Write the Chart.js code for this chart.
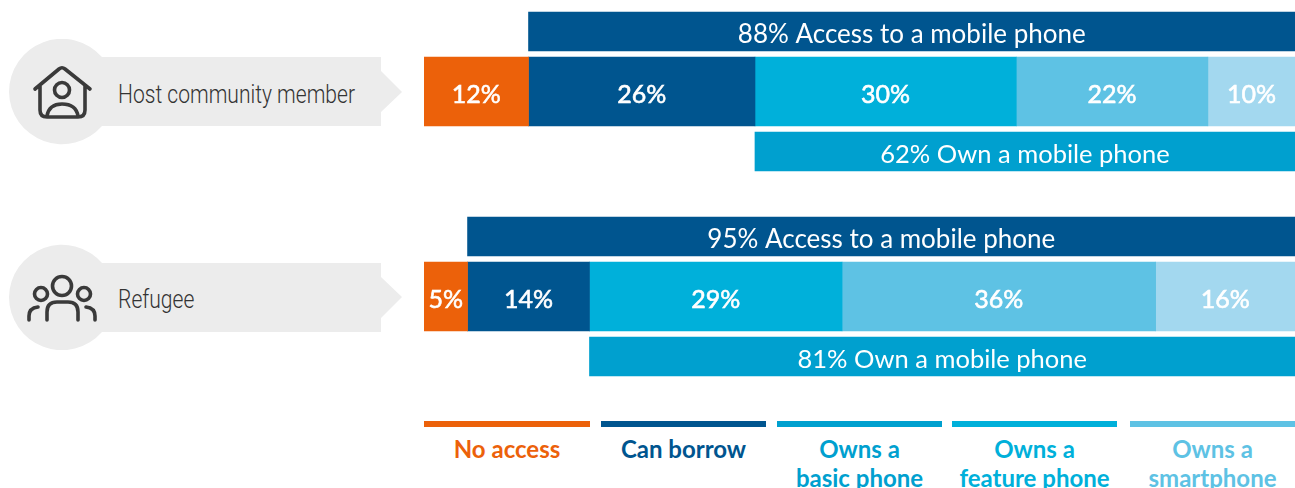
<!DOCTYPE html>
<html>
<head>
<meta charset="utf-8">
<script src="https://cdn.jsdelivr.net/npm/chart.js@4"></script>
<style>
    html, body { margin: 0; padding: 0; background: #fff; }
    .page { position: relative; width: 1295px; height: 488px; overflow: hidden; font-family: Lato, sans-serif; }
    .plot { position: absolute; left: 424px; width: 871px; }
    .badge { position: absolute; left: 0; width: 410px; height: 106px; }
    .badge svg { position: absolute; left: 0; top: 0; }
    .badge span { position: absolute; left: 118px; top: 38px; font-family: Roboto, sans-serif; font-weight: 300; font-size: 26px; line-height: 34px; color: #333; transform: scaleX(0.81); transform-origin: left center; white-space: nowrap; }
    .key { position: absolute; top: 421px; height: 6px; }
    .key-label { position: absolute; top: 13px; left: -20px; right: -20px; text-align: center; font-weight: 700; font-size: 24px; line-height: 29px; }
</style>
</head>
<body>
<div class="page">
    <div class="badge" style="top: 39px">
        <svg width="410" height="106" fill="none" stroke="#3a3a3a" stroke-width="3.6" stroke-linecap="round" stroke-linejoin="round">
            <path d="M9 53 A53 53 0 0 1 102 18 H381 V32 L402 53 L381 73 V87 H102 A53 53 0 0 1 9 53 Z" fill="#ececec" stroke="none"/>
            <path d="M35 50 L59 30 Q62 27.5 65 30 L90 50 M40 47 V71 Q40 78 47 78 H78 Q85 78 85 71 V47"/>
            <circle cx="62" cy="51" r="7.5"/>
            <path d="M47 77 Q49 65 62 65 Q76 65 78 77"/>
        </svg>
        <span>Host community member</span>
    </div>
    <div class="badge" style="top: 244px">
        <svg width="410" height="106" fill="none" stroke="#3a3a3a" stroke-width="3.6" stroke-linecap="round" stroke-linejoin="round">
            <path d="M9 53 A53 53 0 0 1 102 19 H381 V33 L402 53 L381 74 V88 H102 A53 53 0 0 1 9 53 Z" fill="#ececec" stroke="none"/>
            <circle cx="62" cy="42" r="9.5"/>
            <circle cx="41" cy="50" r="6.5"/>
            <circle cx="84" cy="50" r="6.5"/>
            <path d="M47 76 V68 Q47 58 57 58 H68 Q78 58 78 68 V76"/>
            <path d="M29 76 V72 Q29 64 38 63 M95 76 V72 Q95 64 86 63"/>
        </svg>
        <span>Refugee</span>
    </div>

    <div class="plot" style="top: 1px"><canvas id="hostChart" width="871" height="181"></canvas></div>
    <div class="plot" style="top: 206px"><canvas id="refugeeChart" width="871" height="181"></canvas></div>

    <div class="key" style="left: 424px; width: 166px; background: #ec610a"><div class="key-label" style="color: #ec610a">No access</div></div>
    <div class="key" style="left: 601px; width: 165px; background: #00558f"><div class="key-label" style="color: #00558f">Can borrow</div></div>
    <div class="key" style="left: 777px; width: 165px; background: #00a0cf"><div class="key-label" style="color: #00a0cf">Owns a<br>basic phone</div></div>
    <div class="key" style="left: 952px; width: 165px; background: #00b0da"><div class="key-label" style="color: #00b0da">Owns a<br>feature phone</div></div>
    <div class="key" style="left: 1130px; width: 165px; background: #5ec2e4"><div class="key-label" style="color: #5ec2e4">Owns a<br>smartphone</div></div>
</div>

<script>
document.addEventListener('DOMContentLoaded', function () {
    const rows = ['Access', 'Breakdown', 'Own'];

    const hostShares = [12, 26, 30, 22, 10];
    const hostAccess = 88;
    const hostOwn = 62;

    const refugeeShares = [5, 14, 29, 36, 16];
    const refugeeAccess = 95;
    const refugeeOwn = 81;

    const shareNames = ['No access', 'Can borrow', 'Owns a basic phone', 'Owns a feature phone', 'Owns a smartphone'];
    const shareColors = ['#ec610a', '#00558f', '#00b0da', '#5ec2e4', '#a3d8ef'];

    // writes each bar's label in the middle of its rectangle
    const barLabels = {
        id: 'barLabels',
        afterDatasetsDraw: function (chart) {
            const ctx = chart.ctx;
            ctx.save();
            ctx.fillStyle = '#fff';
            ctx.strokeStyle = '#fff';
            ctx.textAlign = 'center';
            ctx.textBaseline = 'middle';

            chart.data.datasets.forEach(function (dataset, datasetIndex) {
                ctx.font = dataset.labelFont;
                ctx.lineWidth = dataset.labelWeight;
                chart.getDatasetMeta(datasetIndex).data.forEach(function (bar, index) {
                    if (dataset.data[index] === null) {
                        return;
                    }
                    const centre = bar.getCenterPoint();
                    ctx.fillText(dataset.labelText, centre.x, centre.y + 3);
                    if (dataset.labelWeight > 0) {
                        ctx.strokeText(dataset.labelText, centre.x, centre.y + 3);
                    }
                });
            });
            ctx.restore();
        }
    };

    function buildDatasets(shares, accessValue, ownValue) {
        const segments = shares.map(function (value, i) {
            return {
                label: shareNames[i],
                labelText: value + '%',
                labelFont: "25px Lato, sans-serif",
                labelWeight: 0.6,
                data: [null, value, null],
                backgroundColor: shareColors[i],
                barThickness: 69
            };
        });

        segments.push({
            label: 'Access to a mobile phone',
            labelText: accessValue + '% Access to a mobile phone',
            labelFont: "26px Lato, sans-serif",
            labelWeight: 0,
            data: [[100 - accessValue, 100], null, null],
            backgroundColor: '#00558f',
            barThickness: 39
        });
        segments.push({
            label: 'Own a mobile phone',
            labelText: ownValue + '% Own a mobile phone',
            labelFont: "25.5px Lato, sans-serif",
            labelWeight: 0,
            data: [null, null, [100 - ownValue, 100]],
            backgroundColor: '#00a0cf',
            barThickness: 39
        });

        return segments;
    }

    function drawChart(canvasId, datasets) {
        return new Chart(document.getElementById(canvasId), {
            type: 'bar',
            data: { labels: rows, datasets: datasets },
            plugins: [barLabels],
            options: {
                indexAxis: 'y',
                responsive: false,
                animation: false,
                layout: { padding: { top: 0.5, bottom: 0.5 } },
                plugins: {
                    legend: { display: false },
                    tooltip: { enabled: false }
                },
                scales: {
                    x: { stacked: true, min: 0, max: 100, display: false },
                    y: { stacked: true, display: false }
                }
            }
        });
    }

    drawChart('hostChart', buildDatasets(hostShares, hostAccess, hostOwn));
    drawChart('refugeeChart', buildDatasets(refugeeShares, refugeeAccess, refugeeOwn));
});
</script>
</body>
</html>
